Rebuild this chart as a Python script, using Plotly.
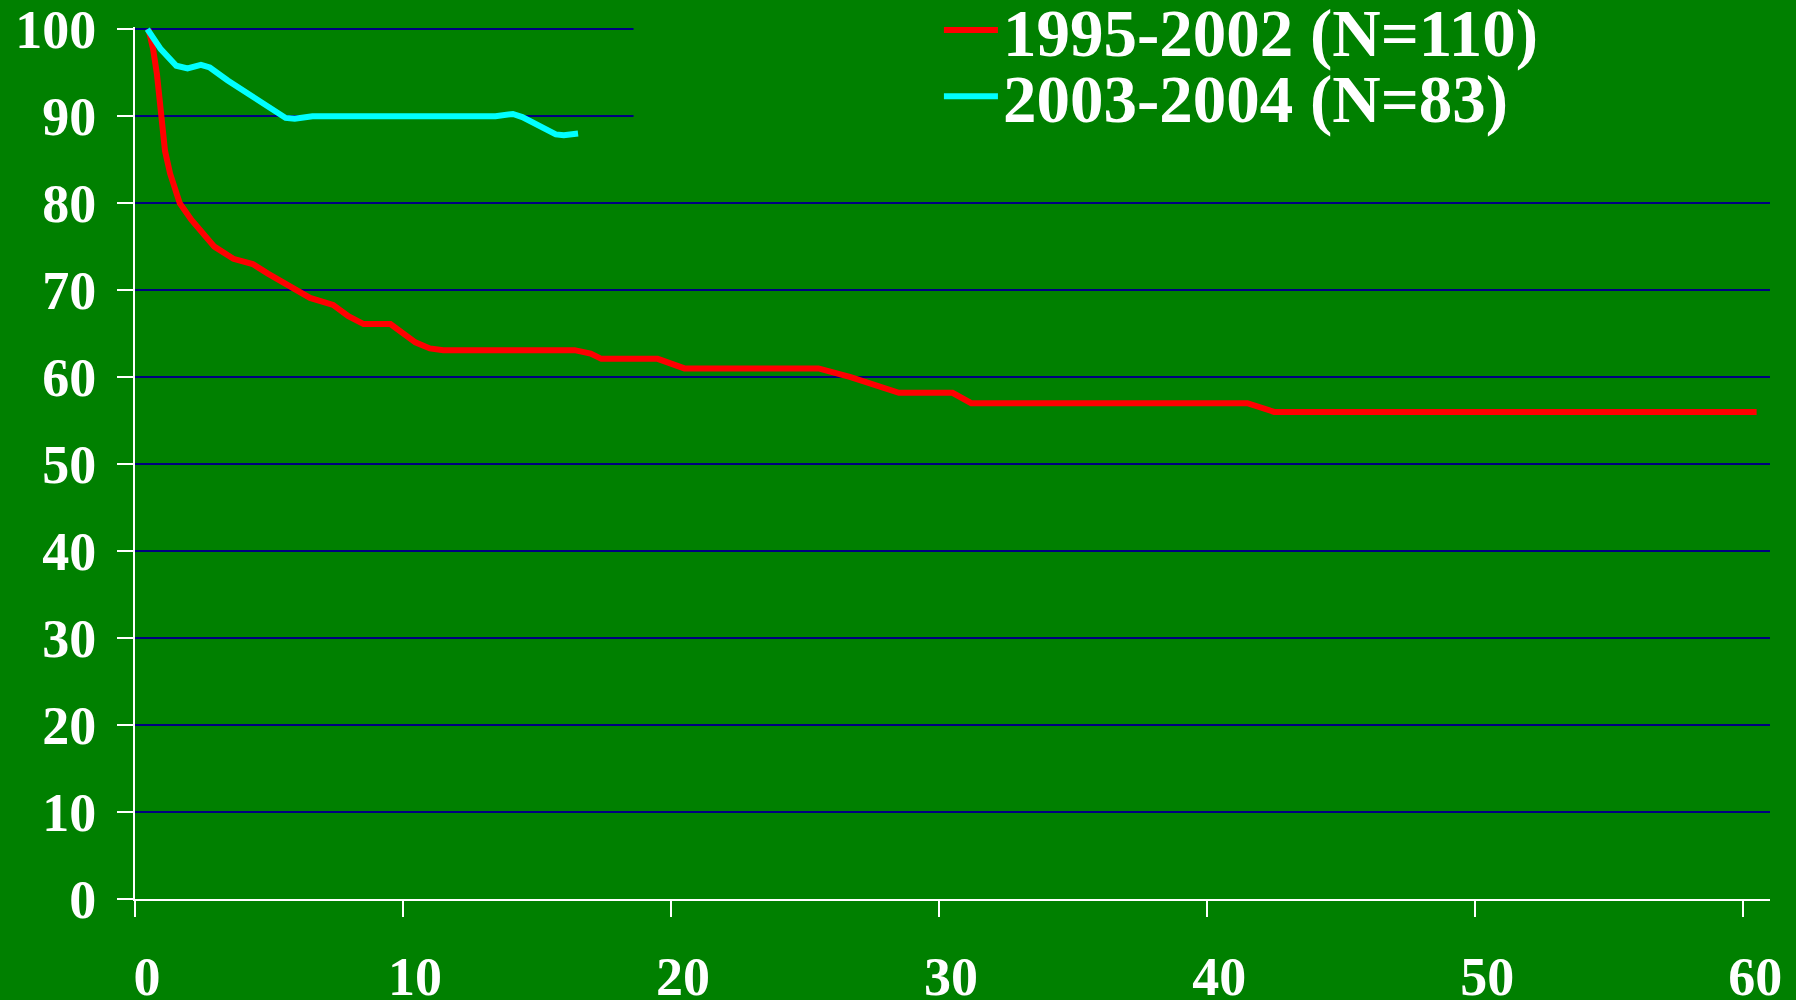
import plotly.graph_objects as go

# ---- data ----
red_name = "1995-2002 (N=110)"
red_x = [0.5, 0.67, 0.82, 0.96, 1.12, 1.31, 1.67, 2.1, 2.46, 2.96, 3.67, 4.39, 4.96, 5.46,
         5.96, 6.53, 7.39, 7.96, 8.53, 9.53, 10.46, 11.0, 11.5, 16.4, 17.0, 17.4, 19.5,
         20.5, 25.5, 26.0, 26.7, 28.5, 30.5, 31.2, 41.5, 42.5, 60.5]
red_y = [100, 97.8, 94.8, 90, 86.0, 83.4, 80.0, 78.1, 76.9, 75.0, 73.6, 73.0, 71.9, 71.0,
         70.0, 69.1, 68.3, 67.0, 66.1, 66.1, 64.0, 63.3, 63.1, 63.1, 62.7, 62.1, 62.1,
         61.0, 61.0, 60.6, 60.0, 58.2, 58.2, 57.0, 57.0, 56.0, 56.0]

cyan_name = "2003-2004 (N=83)"
cyan_x = [0.46, 0.96, 1.54, 1.96, 2.46, 2.79, 3.46, 4.46, 5.04, 5.62, 5.96, 6.62,
          13.45, 14.1, 14.45, 14.95, 15.7, 16.0, 16.53]
cyan_y = [100, 97.7, 95.8, 95.5, 95.9, 95.6, 94.1, 92.1, 90.8, 89.8, 89.7, 90.0,
          90.0, 90.25, 89.9, 89.1, 87.9, 87.8, 88.0]

x_ticks = [0, 10, 20, 30, 40, 50, 60]
y_ticks = [0, 10, 20, 30, 40, 50, 60, 70, 80, 90, 100]

FONT = "Liberation Serif, Times New Roman, serif"
BG = "#008000"

fig = go.Figure()
fig.add_trace(go.Scatter(
    x=red_x, y=red_y, mode="lines", name=red_name, legend="legend",
    line=dict(color="#FF0000", width=6), cliponaxis=False,
))
fig.add_trace(go.Scatter(
    x=cyan_x, y=cyan_y, mode="lines", name=cyan_name, legend="legend2",
    line=dict(color="#00FFFF", width=6), cliponaxis=False,
))

legend_common = dict(
    bgcolor="rgba(0,0,0,0)", borderwidth=0,
    font=dict(family=FONT, size=67, color="white", weight="bold"),
    itemwidth=54, xanchor="left", yanchor="middle", x=0.4917,
)

fig.update_layout(
    width=1796, height=1000,
    paper_bgcolor=BG, plot_bgcolor=BG,
    margin=dict(l=135, r=26, t=27, b=101, autoexpand=False),
    showlegend=True,
    legend=dict(**legend_common, y=0.996),
    legend2=dict(**legend_common, y=0.92),
    font=dict(family=FONT, color="white", weight="bold"),
    # box behind the legend that hides the top gridlines (as in the original)
    shapes=[dict(type="rect", xref="x", yref="y", x0=18.6, x1=61, y0=85, y1=100.3,
                 fillcolor=BG, line=dict(width=0), layer="between")],
)

fig.update_xaxes(
    range=[0, 61], tickvals=x_ticks, ticktext=[str(v) for v in x_ticks],
    showgrid=False, zeroline=False,
    showline=True, linecolor="white", linewidth=2,
    ticks="outside", ticklen=16, tickwidth=2, tickcolor="white",
    tickfont=dict(family=FONT, size=54, color="white", weight="bold"),
    ticklabelstandoff=13, ticklabelshift=12, ticklabeloverflow="allow",
)
fig.update_yaxes(
    range=[0, 100.25], tickvals=y_ticks, ticktext=[str(v) for v in y_ticks],
    showgrid=True, gridcolor="#000080", gridwidth=2, zeroline=False,
    showline=True, linecolor="white", linewidth=2,
    ticks="outside", ticklen=16, tickwidth=2, tickcolor="white",
    tickfont=dict(family=FONT, size=54, color="white", weight="bold"),
    ticklabelstandoff=10, ticklabeloverflow="allow",
)

fig.write_html("out.html", config={"displayModeBar": False},
               post_script="document.body.style.margin='0';")
